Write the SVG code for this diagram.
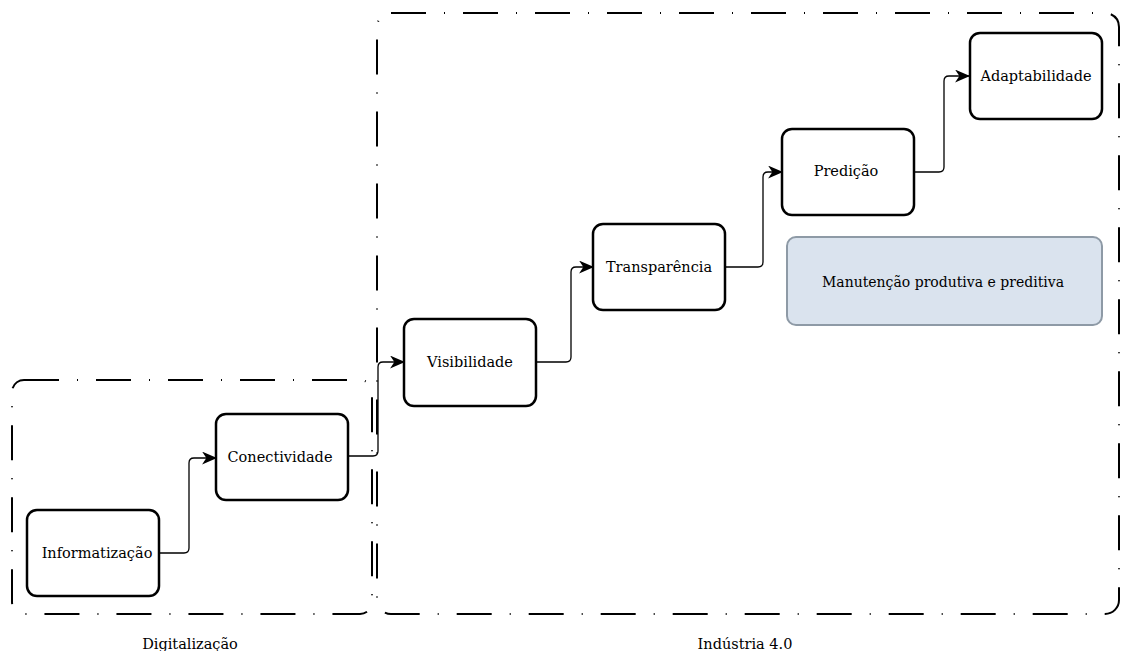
<svg xmlns="http://www.w3.org/2000/svg" width="1122" height="651" viewBox="0 0 1122 651">
  <style>
    .group { fill: none; stroke: #000; stroke-width: 2; stroke-dasharray: 35 18 1 18; }
    .node rect { fill: #fff; stroke: #000; stroke-width: 2.5; }
    .node.note rect { fill: #dae3ee; stroke: #8e9aa6; stroke-width: 2; }
    text { font-family: "DejaVu Serif", "Liberation Serif", serif; font-size: 14.5px; fill: #000; text-anchor: middle; dominant-baseline: central; }
    .node.note text { font-size: 14px; }
    .edge { fill: none; stroke: #000; stroke-width: 1.3; marker-end: url(#arrow); }
  </style>
  <defs>
    <marker id="arrow" viewBox="0 0 14 12" refX="13" refY="6" markerWidth="15" markerHeight="13" markerUnits="userSpaceOnUse" orient="auto">
      <path d="M0,0 L14,6 L0,12 L4,6 Z" fill="#000"/>
    </marker>
  </defs>

  <!-- grouping containers -->
  <g id="group-digitalizacao">
    <rect class="group" x="12" y="380" width="360" height="234" rx="12"/>
    <text x="190" y="644">Digitalização</text>
  </g>
  <g id="group-industria">
    <rect class="group" x="377" y="13" width="742" height="601" rx="14"/>
    <text x="745" y="644">Indústria 4.0</text>
  </g>

  <!-- connectors -->
  <g id="connectors">
    <path class="edge" d="M159,553 H184 Q189,553 189,548 V463 Q189,458 194,458 H216"/>
    <path class="edge" d="M348,456 H373 Q378,456 378,451 V367 Q378,362 383,362 H404"/>
    <path class="edge" d="M536,362 H566 Q571,362 571,357 V272 Q571,267 576,267 H593"/>
    <path class="edge" d="M725,267 H758 Q763,267 763,262 V177 Q763,172 768,172 H782"/>
    <path class="edge" d="M914,172 H939 Q944,172 944,167 V81 Q944,76 949,76 H969"/>
  </g>

  <!-- nodes -->
  <g id="informatizacao" class="node">
    <rect x="27" y="510" width="132" height="86" rx="10"/>
    <text x="97" y="553">Informatização</text>
  </g>
  <g id="conectividade" class="node">
    <rect x="216" y="414" width="132" height="86" rx="10"/>
    <text x="280" y="457">Conectividade</text>
  </g>
  <g id="visibilidade" class="node">
    <rect x="404" y="319" width="132" height="87" rx="10"/>
    <text x="470" y="362">Visibilidade</text>
  </g>
  <g id="transparencia" class="node">
    <rect x="593" y="224" width="132" height="86" rx="10"/>
    <text x="659" y="267">Transparência</text>
  </g>
  <g id="predicao" class="node">
    <rect x="782" y="129" width="132" height="86" rx="10"/>
    <text x="846" y="171">Predição</text>
  </g>
  <g id="adaptabilidade" class="node">
    <rect x="970" y="33" width="132" height="86" rx="10"/>
    <text x="1036" y="76">Adaptabilidade</text>
  </g>
  <g id="manutencao" class="node note">
    <rect x="787" y="237" width="315" height="88" rx="9"/>
    <text x="943" y="282">Manutenção produtiva e preditiva</text>
  </g>
</svg>
